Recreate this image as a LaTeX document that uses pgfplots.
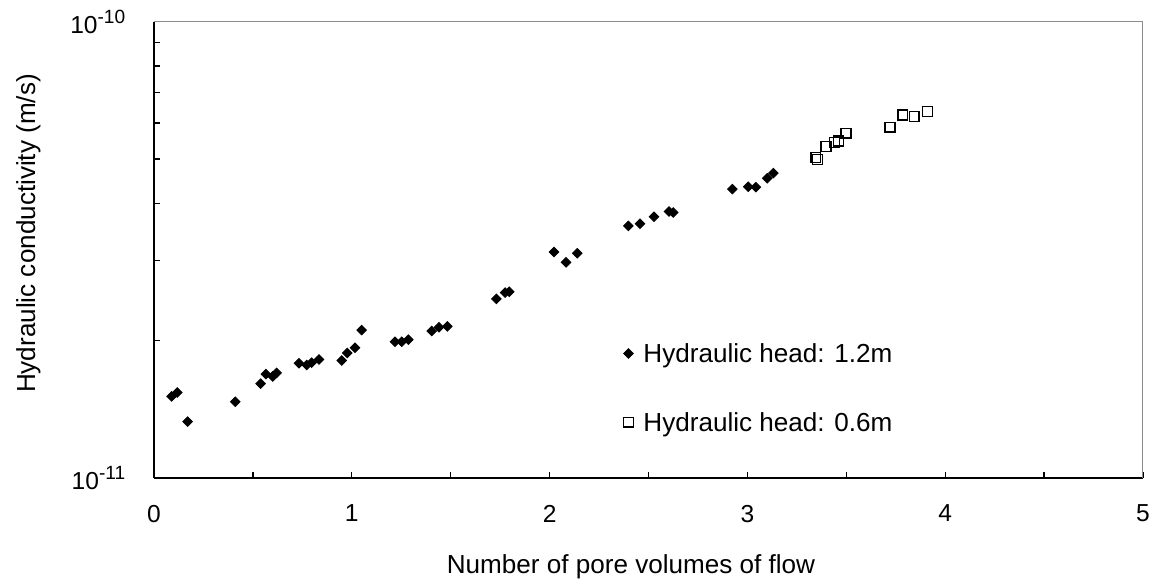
\documentclass[border=0pt]{standalone}
\usepackage{fontspec}
\setmainfont{Liberation Sans}
\usepackage{pgfplots}
\usepackage{pgfplotstable}
\pgfplotsset{compat=1.18}

\pgfplotstableread{
x y
0.089 1.51e-11
0.118 1.54e-11
0.170 1.33e-11
0.411 1.47e-11
0.539 1.61e-11
0.566 1.69e-11
0.600 1.67e-11
0.620 1.70e-11
0.733 1.785e-11
0.772 1.77e-11
0.797 1.79e-11
0.834 1.82e-11
0.949 1.81e-11
0.977 1.88e-11
1.016 1.93e-11
1.050 2.11e-11
1.218 1.99e-11
1.252 1.99e-11
1.286 2.01e-11
1.404 2.10e-11
1.441 2.14e-11
1.483 2.15e-11
1.731 2.47e-11
1.775 2.55e-11
1.796 2.56e-11
2.022 3.13e-11
2.083 2.97e-11
2.140 3.11e-11
2.398 3.57e-11
2.457 3.61e-11
2.528 3.74e-11
2.604 3.84e-11
2.625 3.82e-11
2.924 4.30e-11
3.004 4.35e-11
3.043 4.34e-11
3.100 4.54e-11
3.131 4.66e-11
}\headA

\pgfplotstableread{
x y
3.345 5.04e-11
3.355 4.99e-11
3.397 5.33e-11
3.440 5.44e-11
3.460 5.48e-11
3.499 5.70e-11
3.721 5.87e-11
3.785 6.25e-11
3.844 6.20e-11
3.911 6.36e-11
}\headB

\newcommand{\tenpow}[1]{10\raisebox{0.42em}{\fontsize{8.8}{9}\selectfont #1}}

\begin{document}
\begin{tikzpicture}
\path[use as bounding box] (-70.84pt,-46pt) rectangle (459.54pt,219.88pt);
\begin{axis}[
  scale only axis, width=454.94pt, height=209.9pt,
  ymode=log, xmin=0, xmax=5, ymin=1e-11, ymax=1e-10,
  axis lines*=left,
  axis line style={line width=0.6pt, black},
  xtick={0,1,2,3,4,5}, xticklabels={0,1,2,3,4,5},
  minor xtick={0.5,1.5,2.5,3.5,4.5},
  ytick={1e-11,1e-10},
  yticklabels={\tenpow{-11},\tenpow{-10}},
  minor ytick={2e-11,3e-11,4e-11,5e-11,6e-11,7e-11,8e-11,9e-11},
  tick align=inside,
  major tick length=2.7pt, minor tick length=2.7pt,
  every tick/.style={black, line width=0.6pt},
  minor tick style={black, line width=0.6pt},
  ticklabel style={font=\fontsize{11.3}{13}\selectfont},
  xticklabel style={yshift=-8.8pt},
  yticklabel style={xshift=-9.7pt},
  xlabel={Number of pore volumes of flow},
  xlabel style={at={(axis description cs:0.4823,-0.2082)}, anchor=base, font=\fontsize{12}{14}\selectfont},
  ylabel={Hydraulic conductivity (m/s)},
  ylabel style={at={(axis description cs:-0.1203,0.536)}, anchor=base, rotate=0, font=\fontsize{12}{14}\selectfont},
  legend cell align=left,
  legend image code/.code={\path[draw=none,fill=none] (0pt,-1pt) rectangle (9.9pt,1pt); \draw[mark repeat=2,mark phase=2,#1] plot coordinates {(0pt,0pt)(3pt,0pt)(9.9pt,0pt)};},
  legend style={draw=none, fill=none, inner sep=0pt, row sep=23pt,
    at={(axis description cs:0.4727,0.2944)}, anchor=north west,
    font=\fontsize{12}{14}\selectfont,
    nodes={inner sep=0pt, text height=8.6pt, text depth=0pt}},
]
\addplot[only marks, mark=square*, mark size=1.55pt, mark options={rotate=45, fill=black, draw=black}] table[x=x,y=y] {\headA};
\addlegendentry{Hydraulic head: 1.2m}
\addplot[only marks, mark=square, mark size=2.25pt, mark options={fill=white, draw=black, line width=0.7pt}] table[x=x,y=y] {\headB};
\addlegendentry{Hydraulic head: 0.6m}
\draw[black!45, line width=0.5pt] (rel axis cs:0,1) -- (rel axis cs:1,1) -- (rel axis cs:1,0);
\end{axis}
\end{tikzpicture}
\end{document}
